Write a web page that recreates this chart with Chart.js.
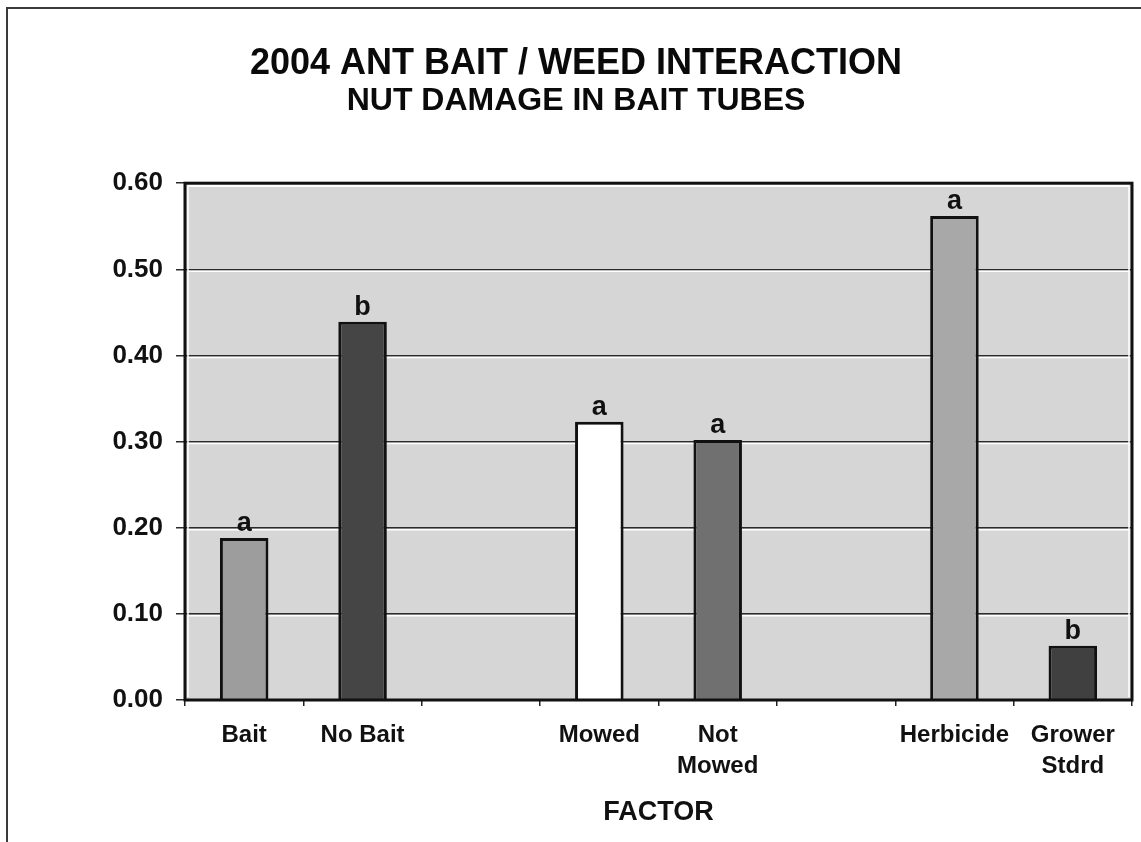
<!DOCTYPE html>
<html>
<head>
<meta charset="utf-8">
<script src="https://cdn.jsdelivr.net/npm/chart.js@4/dist/chart.umd.min.js"></script>
<style>
  html, body { margin: 0; padding: 0; background: #ffffff; }
  #wrap { position: relative; width: 1141px; height: 842px; overflow: hidden; }
  #frame { position: absolute; left: 6px; top: 7px; width: 1200px; height: 900px;
           border-left: 2px solid #3a3a3a; border-top: 2px solid #3a3a3a; }
  canvas { position: absolute; left: 0; top: 0; }
</style>
</head>
<body>
<div id="wrap">
  <div id="frame"></div>
  <canvas id="c" width="1141" height="842"></canvas>
</div>
<script>
// Factor levels (blank slots separate the three comparisons)
const categories = ['Bait', 'No Bait', '', 'Mowed', ['Not', 'Mowed'], '', 'Herbicide', ['Grower', 'Stdrd']];
// Mean nut damage per factor level
const damage = [0.188, 0.439, null, 0.323, 0.302, null, 0.562, 0.063];
// Mean-separation letters shown above each bar
const letters = ['a', 'b', '', 'a', 'a', '', 'a', 'b'];
// Fill shade for each bar
const barColors = ['#9d9d9d', '#454545', '#ffffff', '#ffffff', '#707070', '#ffffff', '#a8a8a8', '#404040'];
// Value axis ticks
const yTicks = [0.00, 0.10, 0.20, 0.30, 0.40, 0.50, 0.60];

const FONT = "'Liberation Sans', Arial, Helvetica, sans-serif";

// Grey plot background, white highlight under each gridline, heavy frame
const plotFrame = {
  id: 'plotFrame',
  beforeDraw(chart) {
    const { ctx, chartArea: a } = chart;
    ctx.save();
    ctx.fillStyle = '#d6d6d6';
    ctx.fillRect(a.left, a.top, a.right - a.left, a.bottom - a.top);
    ctx.restore();
  },
  beforeDatasetsDraw(chart) {
    const { ctx, chartArea: a, scales } = chart;
    const y = scales.y;
    ctx.save();
    ctx.strokeStyle = '#ffffff';
    ctx.lineWidth = 1.5;
    y.ticks.forEach(t => {
      const py = y.getPixelForValue(t.value) + 2;
      if (py > a.bottom - 2) return;
      ctx.beginPath();
      ctx.moveTo(a.left + 3, py);
      ctx.lineTo(a.right - 3, py);
      ctx.stroke();
    });
    // inner light edge just inside the frame
    ctx.beginPath();
    ctx.moveTo(a.left + 3, a.bottom - 3);
    ctx.lineTo(a.left + 3, a.top + 3);
    ctx.lineTo(a.right - 3, a.top + 3);
    ctx.lineTo(a.right - 3, a.bottom - 3);
    ctx.stroke();
    ctx.restore();
  },
  afterDatasetsDraw(chart) {
    const { ctx, chartArea: a } = chart;
    ctx.save();
    ctx.strokeStyle = '#111111';
    ctx.lineWidth = 3;
    ctx.strokeRect(a.left, a.top, a.right - a.left, a.bottom - a.top);
    // letters above the bars
    const meta = chart.getDatasetMeta(0);
    ctx.fillStyle = '#111111';
    ctx.font = 'bold 27px ' + FONT;
    ctx.textAlign = 'center';
    ctx.textBaseline = 'bottom';
    meta.data.forEach((bar, i) => {
      if (damage[i] == null || !letters[i]) return;
      ctx.fillText(letters[i], bar.x, bar.y - 1);
    });
    ctx.restore();
  }
};

new Chart(document.getElementById('c'), {
  type: 'bar',
  data: {
    labels: categories,
    datasets: [{
      data: damage,
      backgroundColor: barColors,
      borderColor: '#111111',
      borderWidth: 3,
      barPercentage: 0.41,
      categoryPercentage: 1.0
    }]
  },
  options: {
    responsive: false,
    devicePixelRatio: 1,
    animation: false,
    layout: { padding: { left: 20, right: 9, top: 0, bottom: 0 } },
    plugins: {
      legend: { display: false },
      tooltip: { enabled: false },
      title: {
        display: true,
        text: '2004 ANT BAIT / WEED INTERACTION',
        color: '#0a0a0a',
        font: { family: FONT, size: 36, weight: 'bold', lineHeight: 1.2 },
        padding: { top: 42, bottom: 0 }
      },
      subtitle: {
        display: true,
        text: 'NUT DAMAGE IN BAIT TUBES',
        color: '#0a0a0a',
        font: { family: FONT, size: 32, weight: 'bold', lineHeight: 1.0 },
        padding: { top: 0, bottom: 66 }
      }
    },
    scales: {
      x: {
        grid: { display: true, drawOnChartArea: false, drawTicks: true, tickLength: 6,
                color: '#222222', lineWidth: 1.5, offset: true },
        border: { display: false },
        ticks: {
          color: '#111111', padding: 14, autoSkip: false, maxRotation: 0,
          font: { family: FONT, size: 24, weight: 'bold', lineHeight: 1.3 }
        },
        title: {
          display: true, text: 'FACTOR', color: '#111111',
          font: { family: FONT, size: 27, weight: 'bold', lineHeight: 1.2 },
          padding: { top: 0, bottom: 13 }
        },
        afterFit(scale) { scale.height = 142; }
      },
      y: {
        min: 0, max: 0.6,
        afterBuildTicks(scale) { scale.ticks = yTicks.map(v => ({ value: v })); },
        grid: { color: '#2a2a2a', lineWidth: 1.5, tickLength: 9, drawTicks: true },
        border: { display: false },
        ticks: {
          color: '#111111', padding: 13,
          font: { family: FONT, size: 26, weight: 'bold' },
          callback: v => Number(v).toFixed(2)
        },
        afterFit(scale) { scale.width = 165; }
      }
    }
  },
  plugins: [plotFrame]
});
</script>
</body>
</html>
